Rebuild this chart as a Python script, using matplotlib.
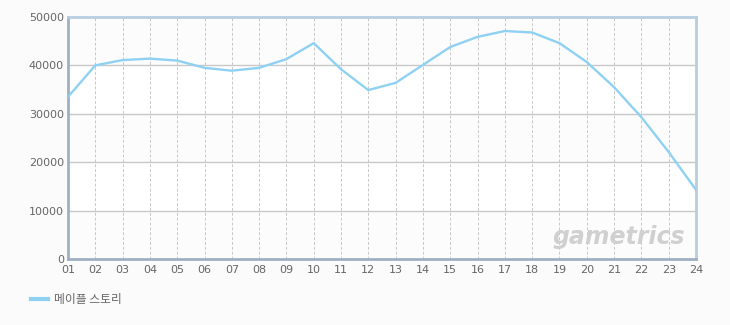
import matplotlib
matplotlib.use("Agg")
import matplotlib.pyplot as plt
from matplotlib.lines import Line2D

hours = ["01","02","03","04","05","06","07","08","09","10","11","12",
         "13","14","15","16","17","18","19","20","21","22","23","24"]
values = [33500, 40000, 41100, 41400, 41000, 39500, 38900, 39500, 41300, 44600,
          39200, 34900, 36400, 40100, 43800, 45900, 47100, 46800, 44600, 40700,
          35500, 29300, 22100, 14300]
yticks = [0, 10000, 20000, 30000, 40000, 50000]
series_name = "메이플 스토리"

plt.rcParams['font.family'] = ['DejaVu Sans']
fig = plt.figure(figsize=(7.3, 3.25), dpi=100)
fig.patch.set_facecolor('#fbfbfb')
ax = fig.add_axes([68/730, (325-259)/325, (696-68)/730, (259-17)/325])
ax.set_facecolor('#fcfcfc')

x = list(range(len(hours)))
for i, (lo, hi) in enumerate(zip(yticks[:-1], yticks[1:])):
    if i % 2 == 1:
        ax.axhspan(lo, hi, color='white', zorder=0)

ax.plot(x, values, color='#8fd1f2', lw=1.7, zorder=3, solid_joinstyle='round')
ax.set_xlim(0, len(hours)-1)
ax.set_ylim(0, 50000)
ax.set_xticks(x)
ax.set_xticklabels(hours)
ax.set_yticks(yticks)
ax.set_yticklabels([str(v) for v in yticks])
ax.tick_params(length=0, labelsize=8, labelcolor='#666666', pad=3)
ax.tick_params(axis='x', pad=4)
for v in yticks[1:-1]:
    ax.axhline(v, color='#c8c8c8', lw=1, zorder=1)
for xi in x[1:-1]:
    ax.axvline(xi, color='#c8c8c8', lw=0.7, ls=(0, (3, 2)), zorder=1)
for s in ['top', 'right']:
    ax.spines[s].set_color('#b8cde0')
    ax.spines[s].set_linewidth(2)
for s in ['left', 'bottom']:
    ax.spines[s].set_color('#9fb0c4')
    ax.spines[s].set_linewidth(2)

ax.text(0.982, 0.09, 'gametrics', transform=ax.transAxes, ha='right', va='center',
        fontsize=17, fontstyle='italic', fontweight='bold', color='#d0d0d0', zorder=2)

fig.legend([Line2D([0], [0], color='#8fd1f2', lw=3)], [series_name],
           loc='center left', bbox_to_anchor=(20/730, 1-300/325), frameon=False,
           prop={'family': ['Noto Sans CJK KR', 'DejaVu Sans'], 'size': 8.5},
           labelcolor='#666666', handlelength=1.5, handletextpad=0.5)

fig.savefig('out.png', dpi=100, facecolor=fig.get_facecolor())
